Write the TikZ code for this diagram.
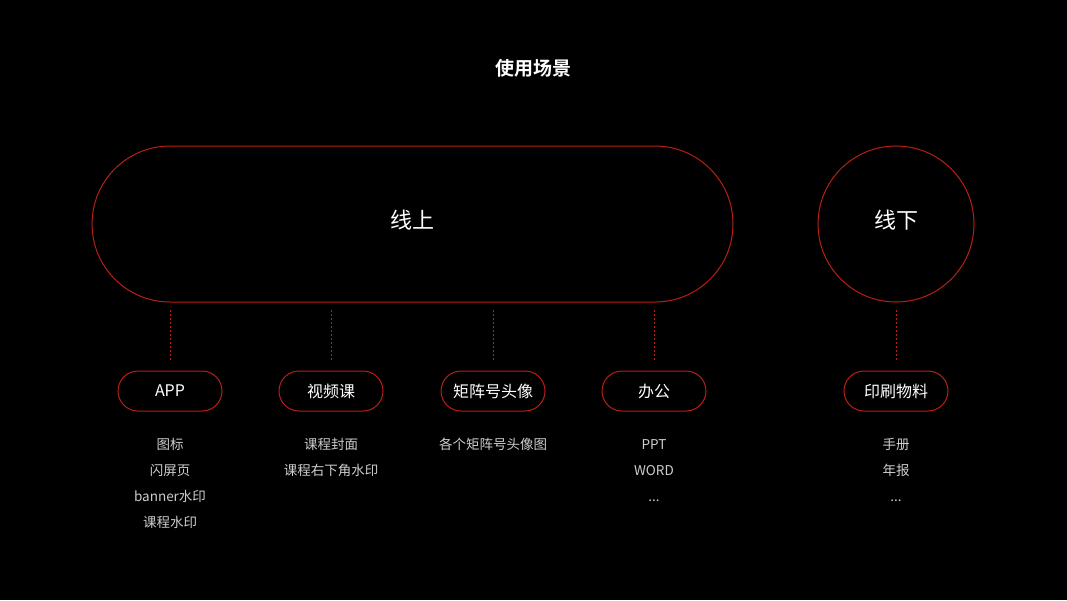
\documentclass[tikz,border=0pt]{standalone}
\usepackage{fontspec}
\setmainfont{Noto Sans CJK SC}
\newfontfamily\cjkbold{Noto Sans CJK SC Bold}
\definecolor{accred}{RGB}{186,30,22}
\definecolor{subgray}{RGB}{205,205,205}
\begin{document}
\begin{tikzpicture}[x=1pt,y=-1pt,
  pill/.style={draw=accred,line width=1pt,rounded corners=20pt,minimum width=104pt,minimum height=40pt,inner sep=0pt,text=white,font=\fontsize{16}{18}\selectfont},
  conn/.style={draw=accred,line width=1pt,dash pattern=on 2pt off 2pt},
  sub/.style={text=subgray,font=\fontsize{13.5}{16}\selectfont,inner sep=0pt,anchor=base},
  big/.style={text=white,font=\fontsize{22}{26}\selectfont}]
\fill[black] (0,0) rectangle (1067,600);
\useasboundingbox (0,0) rectangle (1067,600);
\node[text=white,font=\cjkbold\fontsize{19}{22}\selectfont] (title) at (533,68) {使用场景};
\node[draw=accred,line width=1pt,rounded corners=78pt,minimum width=641pt,minimum height=156pt,inner sep=0pt] (online) at (412.5,224) {};
\node[big] (onlinet) at (412.5,220) {线上};
\node[draw=accred,line width=1pt,circle,minimum size=156pt,inner sep=0pt] (offline) at (896,224) {};
\node[big] (offlinet) at (896,220) {线下};
\node[pill] (app) at (170,391) {APP};
\node[pill] (video) at (331,391) {视频课};
\node[pill] (matrix) at (493,391) {矩阵号头像};
\node[pill] (office) at (654,391) {办公};
\node[pill] (print) at (896,391) {印刷物料};
\coordinate (c1) at (170,310);
\coordinate (c2) at (331,310);
\coordinate (c3) at (493,310);
\coordinate (c4) at (654,310);
\coordinate (c5) at (896,310);
\draw[conn] (c1) -- ([yshift=11pt]app.north);
\draw[conn] (c2) -- ([yshift=11pt]video.north);
\draw[conn] (c3) -- ([yshift=11pt]matrix.north);
\draw[conn] (c4) -- ([yshift=11pt]office.north);
\draw[conn] (c5) -- ([yshift=11pt]print.north);
\node[sub] (a1) at (170,449) {图标};
\node[sub] (a2) at (170,475) {闪屏页};
\node[sub] (a3) at (170,501) {banner水印};
\node[sub] (a4) at (170,527) {课程水印};
\node[sub] (v1) at (331,449) {课程封面};
\node[sub] (v2) at (331,475) {课程右下角水印};
\node[sub] (m1) at (493,449) {各个矩阵号头像图};
\node[sub] (o1) at (654,449) {PPT};
\node[sub] (o2) at (654,475) {WORD};
\node[sub] (o3) at (654,501) {...};
\node[sub] (p1) at (896,449) {手册};
\node[sub] (p2) at (896,475) {年报};
\node[sub] (p3) at (896,501) {...};
\end{tikzpicture}
\end{document}
